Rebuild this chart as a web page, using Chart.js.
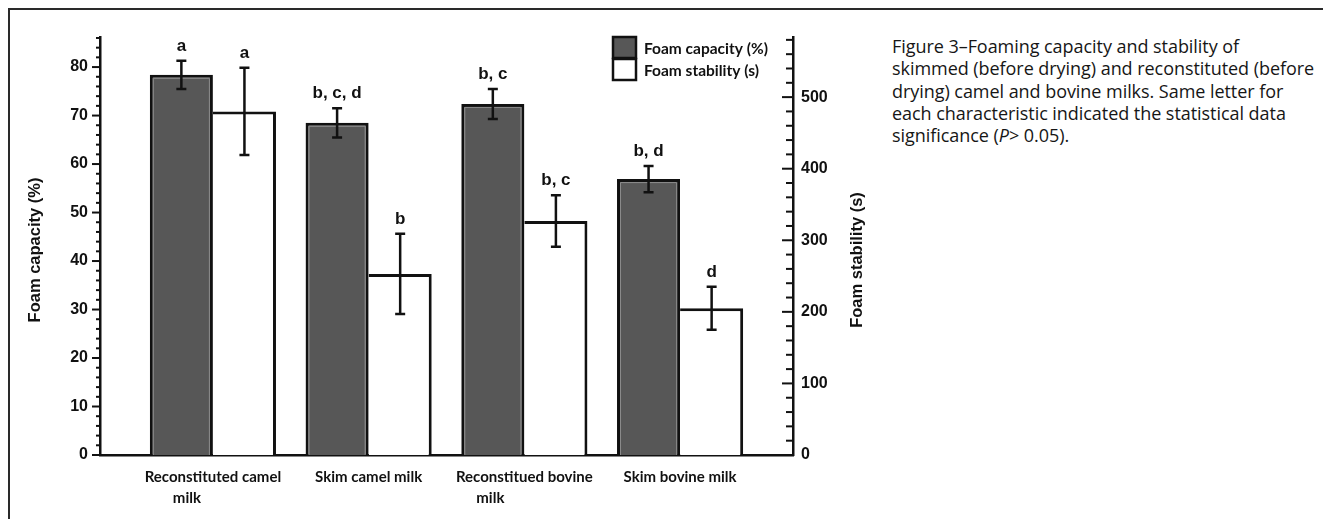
<!DOCTYPE html>
<html><head><meta charset="utf-8">
<script src="https://cdn.jsdelivr.net/npm/chart.js@4.4.0/dist/chart.umd.min.js"></script>
<style>
html,body{margin:0;padding:0;background:#fff;width:1323px;height:519px;overflow:hidden;}
#frame{position:absolute;left:8px;top:8px;width:1400px;height:600px;border-left:2px solid #2a2a2a;border-top:2px solid #2a2a2a;}
#wrap{position:absolute;left:0;top:0;width:880px;height:519px;}
#caption{position:absolute;left:892px;top:35px;font-family:"Open Sans",sans-serif;font-size:18px;line-height:22.3px;color:#161616;white-space:pre;letter-spacing:-0.05px;}
</style></head><body>
<div id="frame"></div>
<div id="wrap"><canvas id="c" width="880" height="519"></canvas></div>
<div id="caption">Figure 3–Foaming capacity and stability of
skimmed (before drying) and reconstituted (before
drying) camel and bovine milks. Same letter for
each characteristic indicated the statistical data
significance (<i>P</i>&gt; 0.05).</div>
<script>
// ---- data ----
const categories = [["Reconstituted camel", "milk"], ["Skim camel milk"], ["Reconstitued bovine", "milk"], ["Skim bovine milk"]];
const seriesNames = ["Foam capacity (%)", "Foam stability (s)"];
const capacity = [78.4, 68.5, 72.4, 56.9];
const capacityErr = [2.9, 3.0, 3.1, 2.7];
const stability = [480, 253, 327, 205];
const stabilityErr = [61, 56, 36, 30];
const capacityLetters = ["a", "b, c, d", "b, c", "b, d"];
const stabilityLetters = ["a", "b", "b, c", "d"];
const capacityTickStep = 10, capacityMinorStep = 2, capacityMax = 86.2;
const stabilityTickStep = 100, stabilityMinorStep = 20, stabilityMax = 584;
const axisTitles = ["Foam capacity (%)", "Foam stability (s)"];

const INK = '#111';
const GRAY = '#575757';
const NUMFONT = '"Liberation Sans", Arial, sans-serif';
const LABFONT = 'Lato, sans-serif';
const secondLineShift = [-26, 0, -34, 0];

const overlay = {
  id: 'overlay',
  afterDatasetsDraw(chart) {
    const ctx = chart.ctx;
    const meta = chart.getDatasetMeta(0);
    ctx.save();
    ctx.strokeStyle = '#8c8c8c'; ctx.lineWidth = 1;
    meta.data.forEach(bar => {
      const w = bar.width;
      const l = bar.x - w / 2 + 3.5, r = bar.x + w / 2 - 3.5, t = bar.y + 3.5, b = bar.base;
      ctx.beginPath(); ctx.moveTo(l, b); ctx.lineTo(l, t); ctx.lineTo(r, t); ctx.lineTo(r, b); ctx.stroke();
    });
    ctx.restore();
  },
  afterDraw(chart) {
    const ctx = chart.ctx;
    const yL = chart.scales.y, yR = chart.scales.y2, xS = chart.scales.x;
    const area = chart.chartArea;
    ctx.save();
    ctx.strokeStyle = INK; ctx.fillStyle = INK; ctx.lineCap = 'butt';
    ctx.lineWidth = 2;
    for (let k = 0; k * capacityMinorStep <= yL.max + 1e-9; k++) {
      const v = k * capacityMinorStep;
      const p = yL.getPixelForValue(v);
      const len = (v % capacityTickStep === 0) ? 8 : 4;
      ctx.beginPath(); ctx.moveTo(area.left - len, p); ctx.lineTo(area.left, p); ctx.stroke();
    }
    for (let k = 0; k * stabilityMinorStep <= yR.max + 1e-9; k++) {
      const v = k * stabilityMinorStep;
      const p = yR.getPixelForValue(v);
      const len = (v % stabilityTickStep === 0) ? 11 : 7;
      ctx.beginPath(); ctx.moveTo(area.right - len, p); ctx.lineTo(area.right, p); ctx.stroke();
    }
    // category labels
    ctx.font = 'bold 15px ' + LABFONT;
    ctx.textAlign = 'center'; ctx.textBaseline = 'middle';
    categories.forEach((lines, i) => {
      const x = xS.getPixelForValue(i);
      lines.forEach((s, j) => {
        ctx.fillText(s, x + (j > 0 ? secondLineShift[i] : 0), area.bottom + 22 + j * 21);
      });
    });
    const errs = [capacityErr, stabilityErr];
    const letters = [capacityLetters, stabilityLetters];
    chart.data.datasets.forEach((ds, di) => {
      const meta = chart.getDatasetMeta(di);
      const ys = chart.scales[meta.yAxisID];
      meta.data.forEach((bar, i) => {
        const v = ds.data[i].y, e = errs[di][i];
        const top = ys.getPixelForValue(v + e), bot = ys.getPixelForValue(v - e);
        const x = bar.x;
        ctx.lineWidth = 2.5;
        ctx.beginPath();
        ctx.moveTo(x, top); ctx.lineTo(x, bot);
        ctx.moveTo(x - 5, top); ctx.lineTo(x + 5, top);
        ctx.moveTo(x - 5, bot); ctx.lineTo(x + 5, bot);
        ctx.stroke();
        ctx.font = 'bold 17px ' + NUMFONT;
        ctx.textAlign = 'center'; ctx.textBaseline = 'alphabetic';
        ctx.fillText(letters[di][i], x, top - 10);
      });
    });
    ctx.font = 'bold 16.5px ' + NUMFONT;
    ctx.textAlign = 'center'; ctx.textBaseline = 'middle';
    ctx.save(); ctx.translate(35, 250); ctx.rotate(-Math.PI / 2); ctx.fillText(axisTitles[0], 0, 0); ctx.restore();
    ctx.save(); ctx.translate(857, 260); ctx.rotate(-Math.PI / 2); ctx.fillText(axisTitles[1], 0, 0); ctx.restore();
    const lx = 613, ly = [37, 59], bw = 23, bh = 21;
    chart.data.datasets.forEach((ds, di) => {
      ctx.fillStyle = ds.backgroundColor;
      ctx.fillRect(lx, ly[di], bw, bh);
      ctx.lineWidth = 2.5; ctx.strokeStyle = INK;
      ctx.strokeRect(lx, ly[di], bw, bh);
      ctx.fillStyle = INK;
      ctx.font = 'bold 15.5px ' + LABFONT;
      ctx.textAlign = 'left'; ctx.textBaseline = 'middle';
      ctx.fillText(ds.label, lx + 31, ly[di] + bh / 2 + 1);
    });
    ctx.restore();
  }
};

new Chart(document.getElementById('c'), {
  type: 'bar',
  data: {
    datasets: [
      { label: seriesNames[0], data: capacity.map((v, i) => ({ x: i, y: v })), yAxisID: 'y',
        backgroundColor: GRAY, borderColor: INK, borderWidth: { top: 3, left: 3, right: 3, bottom: 0 } },
      { label: seriesNames[1], data: stability.map((v, i) => ({ x: i, y: v })), yAxisID: 'y2',
        backgroundColor: '#ffffff', borderColor: INK, borderWidth: { top: 3, left: 0, right: 3, bottom: 0 } }
    ]
  },
  options: {
    responsive: false, animation: false,
    categoryPercentage: 0.81, barPercentage: 1.0,
    layout: { padding: { top: 37, left: 0, right: 0, bottom: 0 } },
    plugins: { legend: { display: false }, tooltip: { enabled: false } },
    scales: {
      x: {
        type: 'linear', min: -0.725, max: 3.725, offset: false, bounds: 'data',
        grid: { display: false, drawTicks: false },
        border: { display: true, color: INK, width: 2.5 },
        afterBuildTicks: s => { s.ticks = categories.map((_, i) => ({ value: i })); },
        afterFit: s => { s.height = 64; },
        ticks: { display: false }
      },
      y: {
        position: 'left', min: 0, max: capacityMax,
        grid: { display: false, drawTicks: false },
        border: { display: true, color: INK, width: 2.5 },
        afterFit: s => { s.width = 100; },
        ticks: { stepSize: capacityTickStep, includeBounds: false, padding: 12, color: INK,
          font: { family: NUMFONT, size: 16, weight: 'bold' } }
      },
      y2: {
        position: 'right', min: 0, max: stabilityMax,
        grid: { display: false, drawTicks: false },
        border: { display: true, color: INK, width: 2.5 },
        afterFit: s => { s.width = 87; },
        ticks: { stepSize: stabilityTickStep, includeBounds: false, padding: 8, color: INK,
          font: { family: NUMFONT, size: 16, weight: 'bold' } }
      }
    }
  },
  plugins: [overlay]
});
</script>
</body></html>
